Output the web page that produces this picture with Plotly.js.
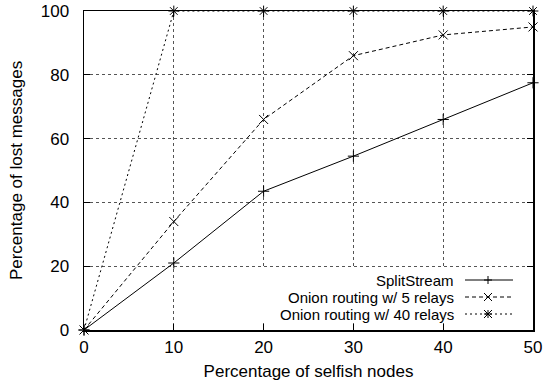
<!DOCTYPE html>
<html><head><meta charset="utf-8">
<script src="https://cdn.plot.ly/plotly-3.0.1.min.js"></script>
<style>html,body{margin:0;padding:0;background:#fff}#plot{width:544px;height:381px}</style>
</head><body><div id="plot"></div>
<script>
const selfish = [0, 10, 20, 30, 40, 50];
const splitStream = [0, 21, 43.5, 54.5, 66, 77.5];
const onion5 = [0, 34, 66, 86, 92.5, 95];
const onion40 = [0, 100, 100, 100, 100, 100];
const seriesNames = ["SplitStream", "Onion routing w/ 5 relays", "Onion routing w/ 40 relays"];
const xTicks = [0, 10, 20, 30, 40, 50];
const yTicks = [0, 20, 40, 60, 80, 100];

const FONT = "Liberation Sans, Arial, Helvetica, sans-serif";
const FS = 17;
const LFS = 15;
const dashes = ["solid", "4px,3px", "2px,3px"];
const symbols = ["cross-thin-open", "x-thin-open", "asterisk-open"];
const sizes = [8, 9, 9];
const ys = [splitStream, onion5, onion40];

const traces = ys.map((y, i) => ({
  x: selfish, y: y, name: seriesNames[i], type: "scatter", mode: "lines+markers",
  cliponaxis: false,
  line: {color: "#000", width: 1, dash: dashes[i]},
  marker: {symbol: symbols[i], size: sizes[i], color: "#000", line: {color: "#000", width: 1}},
  showlegend: false
}));

// custom legend (text right, sample on the right like gnuplot)
const shapes = [];
const annotations = [];
const W = 544, H = 381, L = 84, R = 11, T = 11, B = 51;
const pw = W - L - R, ph = H - T - B;
const px = v => (v - L) / pw;
const py = v => (H - B - v) / ph;
shapes.push({type: "rect", xref: "paper", yref: "paper", x0: px(262), x1: px(531), y0: py(323), y1: py(269),
  fillcolor: "#fff", line: {width: 0}, layer: "above"});
const rowY = [280, 297, 314];
rowY.forEach((ry, i) => {
  annotations.push({xref: "paper", yref: "paper", x: px(455), y: py(ry), xanchor: "right", yanchor: "middle",
    text: seriesNames[i], showarrow: false, borderpad: 0, font: {family: FONT, size: LFS, color: "#000"}});
  shapes.push({type: "line", xref: "paper", yref: "paper", x0: px(465), x1: px(513), y0: py(ry), y1: py(ry),
    line: {color: "#000", width: 1, dash: dashes[i]}, layer: "above"});
  const cx = 488, s = 4;
  const segs = [];
  if (i === 0 || i === 2) { segs.push([cx - s, ry, cx + s, ry]); segs.push([cx, ry - s, cx, ry + s]); }
  if (i === 1 || i === 2) { segs.push([cx - s, ry - s, cx + s, ry + s]); segs.push([cx - s, ry + s, cx + s, ry - s]); }
  segs.forEach(g => shapes.push({type: "line", xref: "paper", yref: "paper", layer: "above",
    x0: px(g[0]), y0: py(g[1]), x1: px(g[2]), y1: py(g[3]), line: {color: "#000", width: 1}}));
});

const axisCommon = {
  showline: true, linecolor: "#000", linewidth: 1.5, mirror: "ticks",
  ticks: "inside", ticklen: 6, tickcolor: "#000", tickwidth: 1,
  showgrid: true, gridcolor: "#555", griddash: "dot", gridwidth: 1,
  zeroline: false, automargin: false,
  tickfont: {family: FONT, size: FS, color: "#000"}
};

const layout = {
  width: W, height: H,
  margin: {l: L, r: R, t: T, b: B},
  paper_bgcolor: "#fff", plot_bgcolor: "#fff",
  showlegend: false,
  xaxis: Object.assign({}, axisCommon, {range: [0, 50], tickvals: xTicks, ticktext: xTicks.map(String),
    ticklabelstandoff: 1,
    title: {text: "Percentage of selfish nodes", standoff: 10, font: {family: FONT, size: FS, color: "#000"}}}),
  yaxis: Object.assign({}, axisCommon, {range: [0, 100], tickvals: yTicks, ticktext: yTicks.map(String),
    ticklabelstandoff: 10,
    title: {text: "Percentage of lost messages", standoff: 14, font: {family: FONT, size: FS, color: "#000"}}}),
  shapes: shapes,
  annotations: annotations
};

Plotly.newPlot("plot", traces, layout, {displayModeBar: false, staticPlot: true});
</script>
</body></html>
